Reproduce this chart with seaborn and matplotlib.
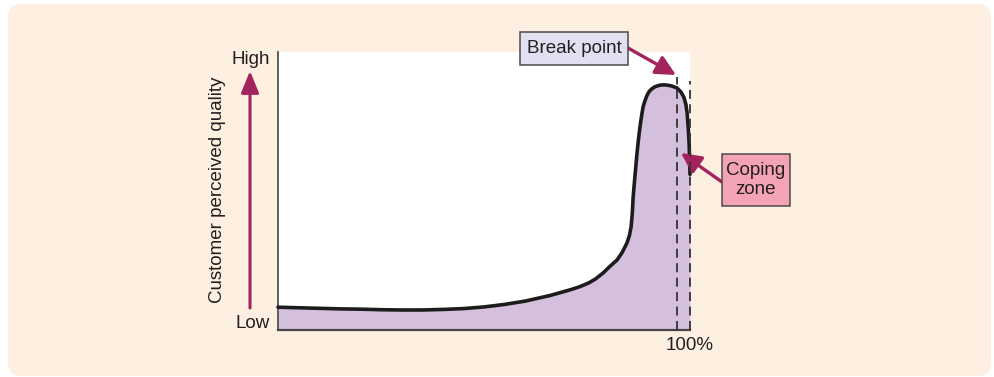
import matplotlib
matplotlib.use("Agg")
import matplotlib.pyplot as plt
from matplotlib.patches import FancyBboxPatch, Rectangle
import pandas as pd
import seaborn as sns

# Share of capacity used (%) versus perceived quality (0 = low, 100 = high)
load_pct = [0, 5, 10, 15, 20, 25, 30, 35, 40, 45, 50, 55, 60, 63, 66, 68.4,
            71, 73.3, 75.5, 77, 78.9, 80.5, 82.3, 83.5, 84.7, 85.3, 85.7,
            86.0, 86.2, 86.5, 86.8, 87.1, 87.4, 87.7, 88.0, 88.3, 88.6, 89.1,
            89.6, 90.1, 90.7, 91.5, 92.5, 93.5, 94.4, 95.5, 96.8, 97.8, 98.5,
            99.0, 99.3, 99.6, 99.8, 100]
quality = [8.2, 8.0, 7.8, 7.6, 7.5, 7.3, 7.2, 7.2, 7.4, 7.7, 8.3, 9.2, 10.4,
           11.4, 12.4, 13.4, 14.5, 15.6, 17.0, 18.3, 20.5, 22.8, 25.2, 27.8,
           31.3, 34.0, 37.1, 42.0, 47.8, 53.0, 58.0, 63.0, 67.3, 71.2, 74.5,
           77.5, 80.2, 82.6, 84.5, 85.8, 86.7, 87.5, 88.0, 88.2, 88.1, 87.8,
           87.1, 85.6, 83.8, 81.2, 78.1, 72.0, 66.5, 56.0]
break_point_x = 96.8
capacity_x = 100
x_tick_labels = ["100%"]
y_end_labels = ["Low", "High"]

df = pd.DataFrame({"load": load_pct, "quality": quality})

sns.set_theme(style="white")
plt.rcParams["font.family"] = ["Liberation Sans", "DejaVu Sans"]

W, H = 994, 377
fig = plt.figure(figsize=(W / 100, H / 100), dpi=100)
fig.patch.set_facecolor("white")

# Beige rounded panel behind everything
panel = FancyBboxPatch((0.08, 0.01), 9.83, 3.72,
                       boxstyle="round,pad=0,rounding_size=0.13",
                       transform=fig.dpi_scale_trans,
                       facecolor="#fdf0e1", edgecolor="none", zorder=-5)
fig.patches.append(panel)

ax = fig.add_axes([278 / W, 47 / H, 412 / W, 278 / H])
ax.set_facecolor("white")

fill_color = "#d4bfdc"
ax.fill_between(df["load"], 0, df["quality"], color=fill_color, lw=0, zorder=1)
sns.lineplot(data=df, x="load", y="quality", ax=ax, color="#1c1c1c",
             lw=2.6, sort=False, zorder=3, clip_on=False)
ax.lines[-1].set_solid_joinstyle("round")

ax.set_xlim(0, capacity_x)
ax.set_ylim(0, 100)
ax.set_xticks([])
ax.set_yticks([])
ax.set_xlabel("")
ax.set_ylabel("")

for side in ["top", "right"]:
    ax.spines[side].set_visible(False)
ax.spines["left"].set_color("#444444")
ax.spines["left"].set_linewidth(1.2)
ax.spines["bottom"].set_color("#444444")
ax.spines["bottom"].set_linewidth(1.6)

# Break point and capacity markers
ax.plot([break_point_x, break_point_x], [0, 91], ls=(0, (5, 3)),
        color="#333333", lw=1.3, zorder=4, clip_on=False)
ax.plot([capacity_x, capacity_x], [0, 89.6], ls=(0, (5, 3)),
        color="#333333", lw=1.3, zorder=4, clip_on=False)

fs = 13.5
txt_color = "#231f20"
arrow_color = "#a3245c"


def fy(y_img):
    return H - y_img


# Axis end labels
fig.text(270 / W, fy(60) / H, y_end_labels[1], ha="right", va="center",
         fontsize=fs, color=txt_color)
fig.text(270 / W, fy(323) / H, y_end_labels[0], ha="right", va="center",
         fontsize=fs, color=txt_color)
fig.text(218 / W, fy(190) / H, "Customer perceived quality", rotation=90,
         ha="center", va="center", fontsize=fs, color=txt_color)
fig.text(690 / W, fy(345) / H, x_tick_labels[0], ha="center", va="center",
         fontsize=fs, color=txt_color)

# Upward quality arrow
ax.annotate("", xy=(250, fy(71)), xycoords="figure pixels",
            xytext=(250, fy(308)), textcoords="figure pixels",
            arrowprops=dict(arrowstyle="-|>,head_length=1.1,head_width=0.45",
                            color=arrow_color, lw=2.2, shrinkA=0, shrinkB=0),
            annotation_clip=False)


def callout(x0, y0, x1, y1, text, face):
    """Box given by image-pixel corners (top-left x0,y0; bottom-right x1,y1)."""
    rect = Rectangle((x0 / W, fy(y1) / H), (x1 - x0) / W, (y1 - y0) / H,
                     transform=fig.transFigure, facecolor=face,
                     edgecolor="#4a4a4a", lw=1.1, zorder=5)
    fig.patches.append(rect)
    fig.text((x0 + x1) / 2 / W, fy((y0 + y1) / 2) / H, text, ha="center",
             va="center", fontsize=fs, color=txt_color, linespacing=1.2,
             zorder=6)


callout(520, 32, 628, 65, "Break point", "#e2e0f0")
callout(722, 154, 790, 206, "Coping\nzone", "#f4a3b5")

ax.annotate("", xy=(676, fy(75)), xycoords="figure pixels",
            xytext=(628, fy(48)), textcoords="figure pixels",
            arrowprops=dict(arrowstyle="-|>,head_length=1.0,head_width=0.5",
                            color=arrow_color, lw=2.4, shrinkA=0, shrinkB=0),
            annotation_clip=False)
ax.annotate("", xy=(681, fy(153)), xycoords="figure pixels",
            xytext=(722, fy(182)), textcoords="figure pixels",
            arrowprops=dict(arrowstyle="-|>,head_length=1.0,head_width=0.5",
                            color=arrow_color, lw=2.4, shrinkA=0, shrinkB=0),
            annotation_clip=False)

fig.savefig("out.png", dpi=100)
